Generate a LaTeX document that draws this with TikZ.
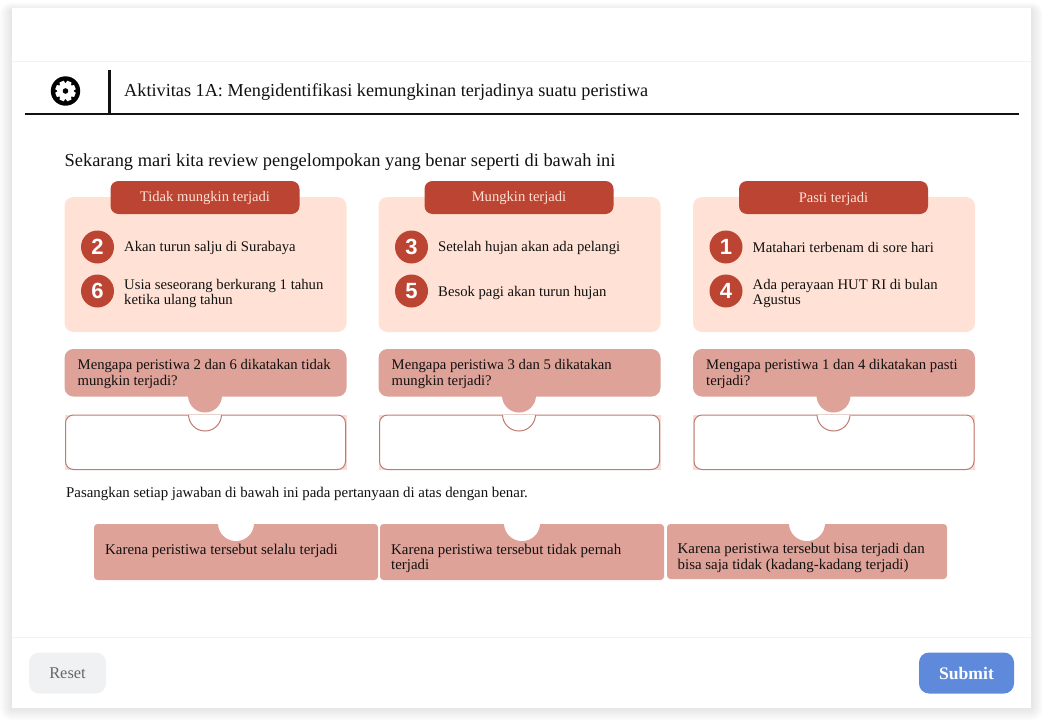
\documentclass[tikz,border=0pt]{standalone}
\usepackage{fontspec}
\setmainfont{Liberation Serif}
\newfontfamily\numfont{Liberation Sans}[Scale=1.0]
\definecolor{hdr}{HTML}{BC4433}
\definecolor{panel}{HTML}{FFE2D5}
\definecolor{rose}{HTML}{DFA299}
\definecolor{roseline}{HTML}{C07A6E}
\definecolor{rosepale}{HTML}{F6DDD8}
\definecolor{ink}{HTML}{111111}
\definecolor{sep}{HTML}{F1F2F3}
\definecolor{resetbg}{HTML}{F0F1F3}
\definecolor{submitbg}{HTML}{5F8ADB}
\tikzset{
  txt/.style={inner sep=0pt,anchor=west,align=left,text=ink,font=\fontsize{14.7}{15.2}\selectfont},
  wide/.style={txt,font=\fontsize{14.9}{15.2}\selectfont},
  head/.style={inner sep=0pt,text=panel,font=\fontsize{14.6}{16}\selectfont},
  num/.style={circle,fill=hdr,minimum size=33pt,inner sep=0pt,text=white,font=\numfont\fontsize{22}{22}\selectfont\bfseries},
}
\newcommand{\column}[8]{%
  \begin{scope}[shift={(#1,0)}]
    \fill[panel,rounded corners=9pt] (65,197) rectangle (347,332);
    \node[fill=hdr,rounded corners=8pt,minimum width=189pt,minimum height=33pt,inner sep=0pt] (h#8) at (205.5,197.5) {};
    \node[head] (ht#8) at (205.5,198.5) {#2};
    \node[num] (a#8) at (98,247) {#3};
    \node[txt] (ta#8) at (124.5,247.7) {#4};
    \node[num] (b#8) at (98,291) {#5};
    \node[txt] (tb#8) at (124.5,293.3) {#6};
    \fill[rose] (205.5,395.5) circle[radius=17pt];
    \fill[rose,rounded corners=9pt] (65,349) rectangle (347,396.5);
    \node[txt] (q#8) at (78,374) {#7};
    \fill[rosepale] (65,414.5) rectangle (347,470);
    \draw[roseline,line width=1pt,fill=white,rounded corners=8pt]
      (66,415) -- (66,469.5) -- (346,469.5) -- (346,415) -- cycle;
    \fill[rosepale] (188.5,414.5) rectangle (222.5,415.5);
    \begin{scope}
      \clip (180,415) rectangle (230,440);
      \draw[roseline,line width=1pt,fill=white] (205.5,414.5) circle[radius=16.5pt];
    \end{scope}
  \end{scope}
}
\begin{document}
\begin{tikzpicture}[x=1pt,y=-1pt]
\useasboundingbox (0,0) rectangle (1042,723);
\fill[white] (0,0) rectangle (1042,723);
% soft card shadow
\foreach \g in {12,10,8,6,4,2}{
  \fill[black,opacity=0.016,rounded corners=\g pt] (12-\g,8-\g*0.7+3) rectangle (1031+\g,708+\g);
}
\fill[white] (12,8) rectangle (1031,708);
\draw[sep,line width=1pt] (12,61.5) -- (1031,61.5);
\draw[sep,line width=1pt] (12,637) -- (1031,637);

% heading bar
\coordinate (barL) at (24.5,114);
\coordinate (barR) at (1018.5,114);
\coordinate (vtop) at (109.5,70);
\coordinate (vbot) at (109.5,114);
\draw[ink,line width=2.4pt] (barL) -- (barR);
\draw[ink,line width=2.2pt] (vtop) -- (vbot);
% gear icon
\fill[black] (65.5,91) circle[radius=14.7pt];
\begin{scope}[shift={(65.5,91)}]
  \foreach \a in {0,45,...,315}{
    \fill[white,rotate=\a+22.5] (-2.2,-10.2) -- (2.2,-10.2) -- (3.2,-6) -- (-3.2,-6) -- cycle;
  }
  \fill[white] (0,0) circle[radius=8pt];
  \fill[black] (0,0) circle[radius=2.8pt];
\end{scope}
\node[txt,font=\fontsize{18.25}{20}\selectfont] (title) at (124,92) {Aktivitas 1A: Mengidentifikasi kemungkinan terjadinya suatu peristiwa};
\node[txt,font=\fontsize{18.4}{20}\selectfont] (intro) at (64.5,162) {Sekarang mari kita review pengelompokan yang benar seperti di bawah ini};

\column{-0.5}{Tidak mungkin terjadi}{2}{Akan turun salju di Surabaya}{6}{Usia seseorang berkurang 1 tahun\\ketika ulang tahun}{Mengapa peristiwa 2 dan 6 dikatakan tidak\\mungkin terjadi?}{x}
\column{313.5}{Mungkin terjadi}{3}{Setelah hujan akan ada pelangi}{5}{Besok pagi akan turun hujan}{Mengapa peristiwa 3 dan 5 dikatakan\\mungkin terjadi?}{y}
\column{628}{Pasti terjadi}{1}{Matahari terbenam di sore hari}{4}{Ada perayaan HUT RI di bulan\\Agustus}{Mengapa peristiwa 1 dan 4 dikatakan pasti\\terjadi?}{z}

\node[txt,font=\fontsize{14.87}{15.2}\selectfont] (pair) at (66,494) {Pasangkan setiap jawaban di bawah ini pada pertanyaan di atas dengan benar.};

% answer cards
\fill[rose,rounded corners=3.5pt] (94,524) rectangle (378,580);
\fill[white] (236,523) circle[radius=18pt];
\node[wide] (c1) at (105,551) {Karena peristiwa tersebut selalu terjadi};
\fill[rose,rounded corners=3.5pt] (380,524) rectangle (664,580);
\fill[white] (522,523) circle[radius=18pt];
\node[wide] (c2) at (391,558.5) {Karena peristiwa tersebut tidak pernah\\terjadi};
\fill[rose,rounded corners=3.5pt] (667,524) rectangle (947,579);
\fill[white] (807,523) circle[radius=18pt];
\node[wide] (c3) at (677.5,558) {Karena peristiwa tersebut bisa terjadi dan\\bisa saja tidak (kadang-kadang terjadi)};

% buttons
\node[fill=resetbg,rounded corners=10pt,minimum width=77pt,minimum height=41pt,inner sep=0pt,text=black!60,font=\fontsize{16.4}{16}\selectfont] (reset) at (67.5,673) {Reset};
\node[fill=submitbg,rounded corners=10pt,minimum width=95pt,minimum height=41pt,inner sep=0pt,text=white,font=\fontsize{17.6}{20}\selectfont\bfseries] (submit) at (966.5,673) {Submit};
\end{tikzpicture}
\end{document}
